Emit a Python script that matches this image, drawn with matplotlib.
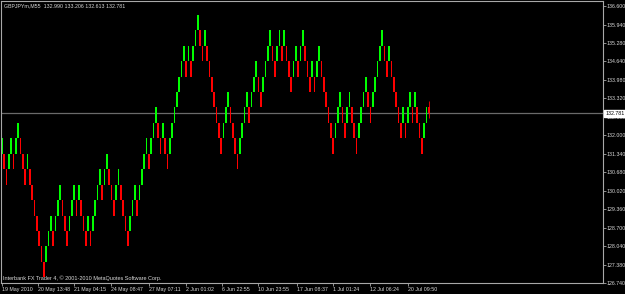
import matplotlib
matplotlib.use("Agg")
import matplotlib.pyplot as plt
import numpy as np

# ---- data: GBPJPY renko, one brick per bar ----
# brick colour (g = up, r = down) and grid row of the brick's upper edge (row 0 = highest)
brick_color = list(
    "grrggrggrr" "rgrrrrrrrg" "ggrgggrrrg" "ggrgrrrgrg" "gggrggrrrg"
    "grrrrgggrg" "gggrgggrrg" "rrgggggggr" "grgggrrgrr" "rrrrrgggrr"
    "rrggggrggg" "rrggggrrgg" "rgrrrggrgg" "rrrgrggrrr" "rrrgggrrgg"
    "rrrggggrrg" "ggggrrgrrr" "rrgrggrgrr" "rgg"
)
brick_row = [
    8, 9, 10, 9, 8, 9, 8, 7, 8, 9,
    10, 9, 10, 11, 12, 13, 14, 15, 16, 15,
    14, 13, 14, 13, 12, 11, 12, 13, 14, 13,
    12, 11, 12, 11, 12, 13, 14, 13, 14, 13,
    12, 11, 10, 11, 10, 9, 10, 11, 12, 11,
    10, 11, 12, 13, 14, 13, 12, 11, 12, 11,
    10, 9, 8, 9, 8, 7, 6, 7, 8, 7,
    8, 9, 8, 7, 6, 5, 4, 3, 2, 3,
    2, 3, 2, 1, 0, 1, 2, 1, 2, 3,
    4, 5, 6, 7, 8, 7, 6, 5, 6, 7,
    8, 9, 8, 7, 6, 5, 6, 5, 4, 3,
    4, 5, 4, 3, 2, 1, 2, 3, 2, 1,
    2, 1, 2, 3, 4, 3, 2, 3, 2, 1,
    2, 3, 4, 3, 4, 3, 2, 3, 4, 5,
    6, 7, 8, 7, 6, 5, 6, 7, 6, 5,
    6, 7, 8, 7, 6, 5, 4, 5, 6, 5,
    4, 3, 2, 1, 2, 3, 2, 3, 4, 5,
    6, 7, 6, 7, 6, 5, 6, 5, 6, 7,
    8, 7, 6,
]
BOX = 0.55
ROW0_PRICE = 136.29

# bar still forming: open, high, low, close
last_ohlc = (132.990, 133.206, 132.613, 132.781)

price_labels = [136.600, 135.940, 135.280, 134.640, 133.980, 133.320, 132.660,
                132.000, 131.340, 130.680, 130.020, 129.360, 128.700, 128.040,
                127.380, 126.740]
date_labels = ["19 May 2010", "20 May 13:48", "21 May 04:15", "24 May 08:47",
               "27 May 07:11", "2 Jun 01:02", "6 Jun 22:55", "10 Jun 23:55",
               "17 Jun 08:37", "1 Jul 01:24", "12 Jul 06:24", "20 Jul 09:50"]
date_bar = [0, 15.5, 31, 47, 63, 79, 94.5, 110, 126.5, 142, 158, 174]

symbol = "GBPJPYm,M55"

# ---- style ----
plt.rcParams["font.family"] = ["Liberation Sans", "DejaVu Sans"]
FG = "#d8d8d8"
FRAME = "#a8a8a8"
UP = "#00ff00"
DOWN = "#ff0000"
FS = 3.8

W, H = 625, 294
fig = plt.figure(figsize=(W / 100, H / 100), dpi=100, facecolor="black")
ax = fig.add_axes([1 / W, 11 / H, 602 / W, 282 / H], facecolor="black")

n = len(brick_row)
x = np.arange(n)
tops = ROW0_PRICE - np.array(brick_row) * BOX
colors = [UP if c == "g" else DOWN for c in brick_color]
ax.bar(x, BOX, bottom=tops - BOX, width=0.74, color=colors, linewidth=0, zorder=2)

# forming bar
o, h, l, c = last_ohlc
ax.vlines(n, l, h, color=DOWN, linewidth=0.6, zorder=2)
ax.bar(n, o - c, bottom=c, width=0.74, color=DOWN, linewidth=0, zorder=2)

# bid line
ax.axhline(c, color="#6a6a6a", linewidth=0.9, zorder=1)

ax.set_xlim(-0.3, 257.7)
ax.set_ylim(126.74, 136.778)

for s in ax.spines.values():
    s.set_color(FRAME)
    s.set_linewidth(0.8)

ax.yaxis.tick_right()
ax.set_yticks(price_labels)
ax.set_yticklabels([f"{p:.3f}" for p in price_labels])
ax.tick_params(axis="y", length=2, width=0.6, color=FRAME, labelcolor=FG,
               labelsize=FS, pad=0.8)

ax.set_xticks(date_bar)
ax.set_xticklabels(date_labels)
for lbl in ax.get_xticklabels():
    lbl.set_horizontalalignment("left")
ax.tick_params(axis="x", length=2, width=0.6, color=FRAME, labelcolor=FG,
               labelsize=FS, pad=1)

# current price tag
ax.text(1.004, c, f"{c:.3f}", transform=ax.get_yaxis_transform(), ha="left",
        va="center", fontsize=FS, color="black", clip_on=False, zorder=5,
        bbox=dict(boxstyle="square,pad=0.2", facecolor="white", edgecolor="white"))

fig.text(4 / W, 1 - 6 / H, f"{symbol}  {o:.3f} {h:.3f} {l:.3f} {c:.3f}",
         color=FG, fontsize=FS, va="center", ha="left")
fig.text(3 / W, 1 - 278 / H, "Interbank FX Trader 4, \u00a9 2001-2010 MetaQuotes Software Corp.",
         color=FG, fontsize=4.0, va="center", ha="left")

fig.savefig("out.png", dpi=100, facecolor="black")
